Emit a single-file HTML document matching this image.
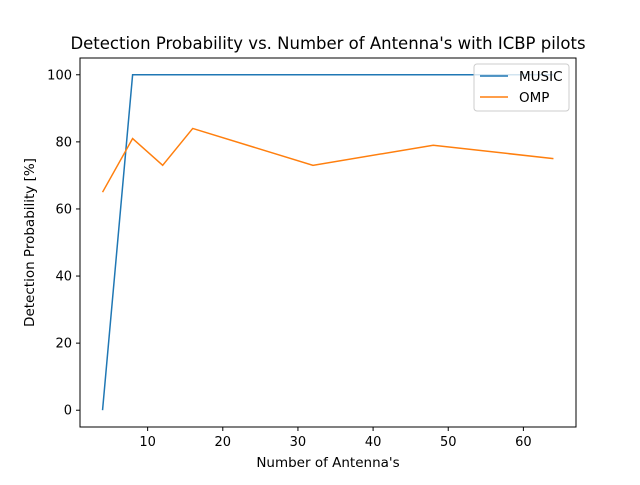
<!DOCTYPE html>
<html><head><meta charset="utf-8"><style>
body{margin:0;background:#fff}
svg{font-family:"DejaVu Sans","Liberation Sans",sans-serif}
</style></head><body>
<svg id="chart" width="640" height="480" viewBox="0 0 640 480">
<rect width="640" height="480" fill="#fff"/>
<text x="328" y="49" font-size="16.5" text-anchor="middle">Detection Probability vs. Number of Antenna's with ICBP pilots</text>
<g id="plot"></g>
<rect x="80" y="58" width="496" height="369" fill="none" stroke="#000" stroke-width="1"/>
<text x="328" y="467" font-size="13.5" text-anchor="middle">Number of Antenna's</text>
<text transform="translate(34,242.5) rotate(-90)" font-size="13.5" text-anchor="middle">Detection Probability [%]</text>
<g>
<rect x="474" y="64" width="95" height="47" rx="3" fill="#fff" fill-opacity="0.8" stroke="#ccc"/>
<line x1="480" y1="76" x2="508" y2="76" stroke="#1f77b4" stroke-width="1.5"/>
<text x="519" y="81" font-size="13.5">MUSIC</text>
<line x1="480" y1="97" x2="508" y2="97" stroke="#ff7f0e" stroke-width="1.5"/>
<text x="519" y="102" font-size="13.5">OMP</text>
</g>
</svg>
<script>
const antennas=[4,8,12,16,32,48,64];
const musicValues=[0,100,100,100,100,100,100];
const ompValues=[65,81,73,84,73,79,75];
const xTicks=[10,20,30,40,50,60];
const yTicks=[0,20,40,60,80,100];
const NS="http://www.w3.org/2000/svg";
const plot=document.getElementById('plot');
const sx=v=>80+(v-1)*(496/66);
const sy=v=>427-(v+5)*(369/110);
function mk(t,a){const e=document.createElementNS(NS,t);for(const k in a)e.setAttribute(k,a[k]);plot.appendChild(e);return e;}
xTicks.forEach(t=>{
 const l=mk('line',{x1:sx(t),x2:sx(t),y1:427,y2:431,stroke:'#000'});
 
 
 const tx=mk('text',{x:sx(t),y:446,'font-size':13,'text-anchor':'middle'});tx.textContent=t;
 
 
});
yTicks.forEach(t=>{
 const l=mk('line',{x1:76,x2:80,y1:sy(t),y2:sy(t),stroke:'#000'});
 
 
 const tx=mk('text',{x:72,y:sy(t)+4.5,'font-size':13,'text-anchor':'end'});tx.textContent=t;
 
 
});
function series(vals,color,name){
 const p=mk('polyline',{points:antennas.map((x,i)=>sx(x)+','+sy(vals[i])).join(' '),fill:'none',stroke:color,'stroke-width':1.5});
 
 
}
series(musicValues,'#1f77b4','music-line');
series(ompValues,'#ff7f0e','omp-line');
</script>
</body></html>
